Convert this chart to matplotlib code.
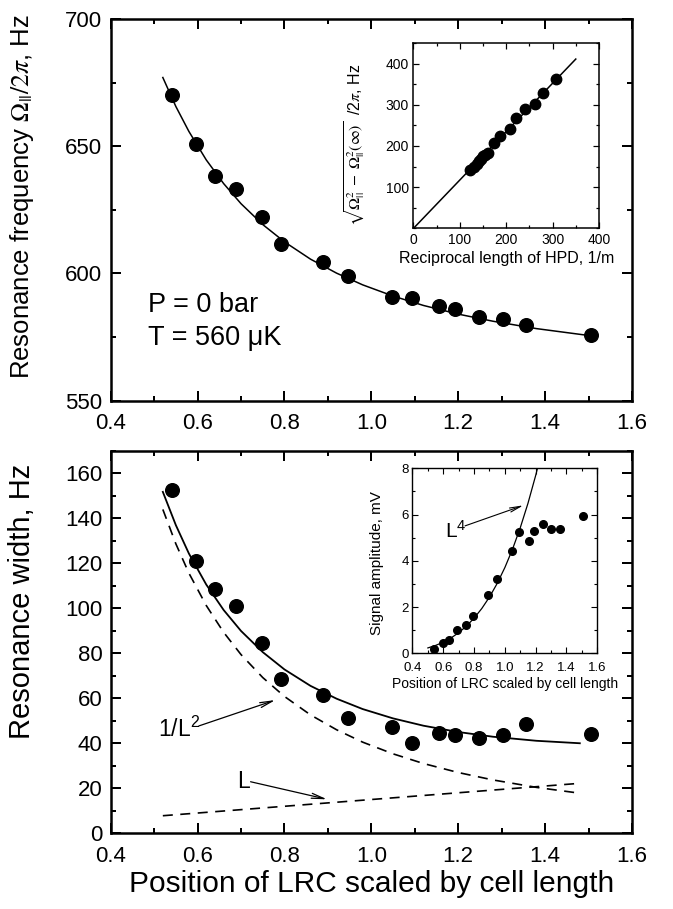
import matplotlib
matplotlib.use('Agg')
import matplotlib.pyplot as plt
from matplotlib.ticker import MultipleLocator, FormatStrFormatter

plt.rcParams['font.family'] = ['Liberation Sans', 'DejaVu Sans']
plt.rcParams['mathtext.fontset'] = 'stix'

# ---------------- data ----------------
# LRC position scaled by cell length (shared by all panels)
position = [0.540, 0.597, 0.639, 0.689, 0.748, 0.793, 0.888, 0.946,
            1.048, 1.093, 1.155, 1.192, 1.248, 1.302, 1.356, 1.505]
# resonance frequency, Hz
frequency = [670.0, 650.9, 638.1, 633.0, 622.2, 611.6, 604.6, 599.1,
             590.6, 590.2, 587.2, 586.0, 583.0, 582.1, 579.7, 575.8]
# resonance width, Hz
width = [152.6, 121.2, 108.4, 101.0, 84.5, 68.4, 61.3, 51.1,
         47.2, 40.3, 44.4, 43.7, 42.2, 43.7, 48.6, 44.0]
# signal amplitude, mV
amplitude = [0.19, 0.44, 0.59, 0.99, 1.23, 1.63, 2.52, 3.21,
             4.44, 5.26, 4.86, 5.30, 5.60, 5.36, 5.36, 5.95]
# inset of top panel: reciprocal HPD length (1/m) and sqrt(Omega^2 - Omega_inf^2)/2pi (Hz)
hpd_recip = [308, 279, 261, 241, 221, 209, 187, 174, 160, 155, 150, 146, 141, 136, 130, 122]
hpd_freq = [363, 328, 302, 290, 267, 240, 223, 206, 184, 179, 175, 169, 164, 157, 150, 141]
hpd_fit_x = [0, 350]
hpd_fit_y = [0, 411]

# fit curves
fit_x = [0.52, 0.55, 0.58, 0.62, 0.66, 0.70, 0.75, 0.80, 0.86, 0.92, 0.98,
         1.05, 1.12, 1.20, 1.28, 1.38, 1.48]
freq_fit_x = [0.52, 0.55, 0.58, 0.62, 0.66, 0.70, 0.75, 0.80, 0.86, 0.92, 0.98,
              1.05, 1.12, 1.20, 1.28, 1.38, 1.50]
freq_fit = [677.0, 665.6, 655.8, 644.6, 635.3, 627.4, 619.2, 612.4, 605.6, 600.1,
            595.5, 591.1, 587.4, 584.0, 581.2, 578.3, 575.6]
width_fit = [151.7, 136.9, 124.3, 110.5, 99.2, 89.9, 80.5, 72.8, 65.5, 59.8,
             55.2, 51.05, 47.8, 45.0, 42.9, 41.1, 40.0]
inv_L2 = [143.9, 128.6, 115.6, 101.2, 89.3, 79.4, 69.2, 60.8, 52.6, 46.0,
          40.5, 35.3, 31.0, 27.0, 23.7, 20.4, 17.8]
lin_L_x = [0.52, 1.48]
lin_L = [7.8, 22.2]
L4_x = [0.50, 0.55, 0.60, 0.65, 0.70, 0.75, 0.80, 0.85, 0.90, 0.95, 1.00,
        1.05, 1.10, 1.15, 1.20, 1.22]
L4_fit = [0.232, 0.340, 0.481, 0.662, 0.891, 1.174, 1.520, 1.937, 2.434, 3.022,
          3.71, 4.510, 5.432, 6.489, 7.693, 8.22]

# ---------------- figure ----------------
fig = plt.figure(figsize=(6.73, 9.09), dpi=100)
ax1 = fig.add_axes([0.1645, 0.5593, 0.7745, 0.4198])
ax2 = fig.add_axes([0.1645, 0.0833, 0.7745, 0.4209])
ins1 = fig.add_axes([0.6144, 0.7488, 0.2756, 0.2039])
ins2 = fig.add_axes([0.6129, 0.2813, 0.2746, 0.2035])


def style(ax, lw, size, labelsize):
    for s in ax.spines.values():
        s.set_linewidth(lw)
    ax.tick_params(which='both', direction='in', top=True, right=True,
                   width=lw * 0.8, labelsize=labelsize)
    ax.tick_params(which='major', length=size)
    ax.tick_params(which='minor', length=size * 0.55)


# top panel
ax1.plot(freq_fit_x, freq_fit, color='black', lw=1.1)
ax1.plot(position, frequency, 'o', color='black', ms=9.8)
ax1.set_xlim(0.4, 1.6)
ax1.set_ylim(550, 700)
ax1.xaxis.set_major_locator(MultipleLocator(0.2))
ax1.xaxis.set_minor_locator(MultipleLocator(0.1))
ax1.yaxis.set_major_locator(MultipleLocator(50))
ax1.yaxis.set_minor_locator(MultipleLocator(25))
ax1.xaxis.set_major_formatter(FormatStrFormatter('%.1f'))
style(ax1, 1.8, 7, 16)
ax1.tick_params(axis='x', pad=9)
ax1.tick_params(axis='y', pad=6)
ax1.set_ylabel(r'Resonance frequency $\Omega_{||}/2\pi$, Hz', fontsize=18.5)
ax1.yaxis.set_label_coords(-0.144, 0.535)
ax1.text(0.487, 584.8, 'P = 0 bar', fontsize=19.5)
ax1.text(0.487, 571.9, 'T = 560 \u03bcK', fontsize=19.5)

# top inset
ins1.plot(hpd_fit_x, hpd_fit_y, color='black', lw=1.1)
ins1.plot(hpd_recip, hpd_freq, 'o', color='black', ms=7.5)
ins1.set_xlim(0, 400)
ins1.set_ylim(0, 450)
ins1.xaxis.set_major_locator(MultipleLocator(100))
ins1.xaxis.set_minor_locator(MultipleLocator(50))
ins1.set_yticks([100, 200, 300, 400])
ins1.yaxis.set_minor_locator(MultipleLocator(50))
style(ins1, 1.1, 4.5, 10)
ins1.set_xlabel('Reciprocal length of HPD, 1/m', fontsize=11.5, labelpad=3)
ins1.set_ylabel(r'$\sqrt{\Omega_{||}^{2}\;-\;\Omega_{||}^{2}(\infty)}\ $ /2$\pi$, Hz',
                fontsize=11.5)
ins1.yaxis.set_label_coords(-0.25, 0.45)

# bottom panel
ax2.plot(fit_x, width_fit, color='black', lw=1.3)
ax2.plot(fit_x, inv_L2, color='black', lw=1.2, ls=(0, (6, 4.5)))
ax2.plot(lin_L_x, lin_L, color='black', lw=1.2, ls=(0, (6, 4.5)))
ax2.plot(position, width, 'o', color='black', ms=9.8)
ax2.set_xlim(0.4, 1.6)
ax2.set_ylim(0, 170)
ax2.xaxis.set_major_locator(MultipleLocator(0.2))
ax2.xaxis.set_minor_locator(MultipleLocator(0.1))
ax2.yaxis.set_major_locator(MultipleLocator(20))
ax2.yaxis.set_minor_locator(MultipleLocator(10))
ax2.xaxis.set_major_formatter(FormatStrFormatter('%.1f'))
style(ax2, 1.8, 7, 16)
ax2.tick_params(axis='x', pad=9)
ax2.tick_params(axis='y', pad=6)
ax2.set_ylabel('Resonance width, Hz', fontsize=21)
ax2.yaxis.set_label_coords(-0.144, 0.607)
ax2.set_xlabel('Position of LRC scaled by cell length', fontsize=21.5, labelpad=2)

arrow_kw = dict(arrowstyle='->,head_length=0.9,head_width=0.18', color='black', lw=0.9,
                shrinkA=0, shrinkB=0)
ax2.text(0.51, 42.8, r'$\mathregular{1/L^{2}}$', fontsize=16.5)
ax2.annotate('', xy=(0.779, 59.2), xytext=(0.603, 47.7), arrowprops=arrow_kw)
ax2.text(0.69, 20.0, 'L', fontsize=16.5)
ax2.annotate('', xy=(0.898, 15.1), xytext=(0.722, 22.9), arrowprops=arrow_kw)

# bottom inset
ins2.plot(L4_x, L4_fit, color='black', lw=0.9)
ins2.plot(position, amplitude, 'o', color='black', ms=5.5)
ins2.set_xlim(0.4, 1.6)
ins2.set_ylim(0, 8)
ins2.xaxis.set_major_locator(MultipleLocator(0.2))
ins2.xaxis.set_minor_locator(MultipleLocator(0.1))
ins2.yaxis.set_major_locator(MultipleLocator(2))
ins2.yaxis.set_minor_locator(MultipleLocator(1))
ins2.xaxis.set_major_formatter(FormatStrFormatter('%.1f'))
style(ins2, 1.0, 4, 9.5)
ins2.tick_params(axis='x', pad=6.5)
ins2.tick_params(axis='y', pad=2.5)
ins2.set_xlabel('Position of LRC scaled by cell length', fontsize=10, labelpad=2)
ins2.set_ylabel('Signal amplitude, mV', fontsize=11)
ins2.yaxis.set_label_coords(-0.155, 0.49)
ins2.text(0.61, 5.0, r'$\mathregular{L^{4}}$', fontsize=15)
ins2.annotate('', xy=(1.121, 6.4), xytext=(0.741, 5.51),
              arrowprops=dict(arrowstyle='->,head_length=0.8,head_width=0.15',
                              color='black', lw=0.8, shrinkA=0, shrinkB=0))

fig.savefig('out.png', dpi=100)
